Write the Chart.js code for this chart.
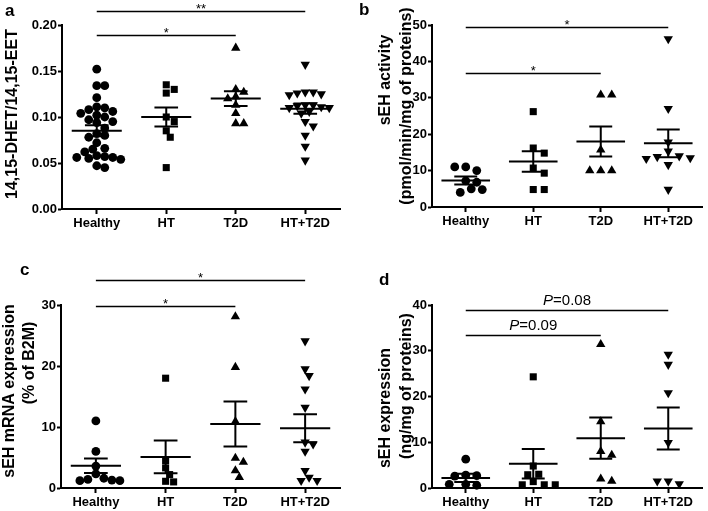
<!DOCTYPE html>
<html>
<head>
<meta charset="utf-8">
<script src="https://cdn.jsdelivr.net/npm/chart.js@4"></script>
<style>
  body { margin: 0; background: #fff; }
  #wrap { position: relative; width: 708px; height: 511px; font-family: "Liberation Sans", Arial, sans-serif; }
  canvas { position: absolute; }
  .lbl { position: absolute; font-weight: bold; font-size: 17px; line-height: 17px; color: #000; }
</style>
</head>
<body>
<div id="wrap">
  <canvas id="ca" width="354" height="255" style="left:0;top:0"></canvas>
  <canvas id="cb" width="354" height="255" style="left:354px;top:0"></canvas>
  <canvas id="cc" width="354" height="256" style="left:0;top:255px"></canvas>
  <canvas id="cd" width="354" height="256" style="left:354px;top:255px"></canvas>
  <div class="lbl" style="left:5px;top:2px">a</div>
  <div class="lbl" style="left:359px;top:1px">b</div>
  <div class="lbl" style="left:20px;top:261px">c</div>
  <div class="lbl" style="left:379px;top:271px">d</div>
</div>
<script>
const groups = ["Healthy", "HT", "T2D", "HT+T2D"];

// a: 14,15-DHET/14,15-EET
const aHealthy = [0.152, 0.134, 0.134, 0.121, 0.111, 0.110, 0.108, 0.106, 0.104, 0.102, 0.100, 0.097, 0.095, 0.094, 0.088,
  0.082, 0.080, 0.078, 0.072, 0.066, 0.065, 0.062, 0.058, 0.057, 0.056, 0.056, 0.055, 0.054, 0.047, 0.045];
const aHT = [0.135, 0.130, 0.126, 0.100, 0.095, 0.085, 0.078, 0.045];
const aT2D = [0.175, 0.130, 0.127, 0.122, 0.120, 0.113, 0.104, 0.093, 0.093];
const aBoth = [0.157, 0.127, 0.127, 0.126, 0.125, 0.124, 0.113, 0.113, 0.112, 0.111, 0.110, 0.110, 0.106, 0.104,
  0.095, 0.090, 0.080, 0.068, 0.053];
const aMean = [0.085, 0.100, 0.120, 0.109];
const aSem = [0.006, 0.0103, 0.008, 0.0056];
const aSigTo = [2, 3];
const aSigLevel = [0.189, 0.215];
const aSigText = ["*", "**"];

// b: sEH activity
const bHealthy = [11.0, 10.0, 11.0, 7.2, 6.8, 5.0, 4.0, 4.8];
const bHT = [26.2, 16.2, 14.8, 10.7, 9.3, 4.8, 4.8];
const bT2D = [30.8, 30.8, 15.7, 10.0, 10.0, 10.0];
const bBoth = [46.2, 27.0, 17.8, 15.3, 14.0, 13.8, 13.5, 13.3, 11.6, 4.8];
const bMean = [7.3, 12.5, 18.0, 17.5];
const bSem = [1.1, 2.8, 4.1, 3.8];
const bSigTo = [2, 3];
const bSigLevel = [36.7, 49.5];
const bSigText = ["*", "*"];

// c: sEH mRNA expression
const cHealthy = [11.0, 6.0, 3.6, 2.3, 1.6, 1.4, 1.3, 1.2, 1.2];
const cHT = [18.0, 4.5, 3.3, 2.2, 1.1, 1.0];
const cT2D = [28.1, 19.8, 10.9, 4.9, 4.25, 2.85, 1.75];
const cBoth = [24.1, 19.5, 18.4, 16.2, 13.2, 7.5, 7.2, 6.0, 2.85, 1.75, 1.2, 1.2];
const cMean = [3.65, 5.1, 10.5, 9.8];
const cSem = [1.2, 2.7, 3.7, 2.3];
const cSigTo = [2, 3];
const cSigLevel = [29.8, 34.1];
const cSigText = ["*", "*"];

// d: sEH expression
const dHealthy = [6.3, 2.8, 2.7, 2.6, 0.8, 0.6, 0.8];
const dHT = [24.3, 4.8, 3.0, 2.9, 1.4, 0.7, 0.7, 0.7];
const dT2D = [31.4, 14.5, 8.0, 7.2, 2.0, 1.5];
const dBoth = [29.2, 27.0, 20.8, 9.9, 1.5, 0.9, 1.5];
const dMean = [2.2, 5.3, 10.9, 13.0];
const dSem = [0.9, 3.2, 4.5, 4.6];
const dSigTo = [2, 3];
const dSigLevel = [33.4, 38.9];
const dSigText = ["P=0.09", "P=0.08"];

const markers = [
  { pointStyle: "circle", pointRadius: 4.4, rotation: 0 },
  { pointStyle: "rect", pointRadius: 5, rotation: 0 },
  { pointStyle: "triangle", pointRadius: 5.4, rotation: 0 },
  { pointStyle: "triangle", pointRadius: 5.4, rotation: 180 },
];

const FONT = '"Liberation Sans", Arial, sans-serif';
Chart.defaults.font.family = FONT;
Chart.defaults.color = "#000";

// spread points sideways so they don't overlap (like a dot plot)
function swarm(values, pxPerY, catW, step, minDist) {
  const placed = [];
  return values.map((v) => {
    const py = v * pxPerY;
    for (let k = 0; ; k++) {
      const off = k === 0 ? 0 : (k % 2 ? 1 : -1) * Math.ceil(k / 2) * step;
      if (placed.every((p) => Math.hypot(p.x - off, p.y - py) >= minDist)) {
        placed.push({ x: off, y: py });
        return off / catW;
      }
    }
  });
}

// mean line + SEM bar with caps, gaps between pieces
function meanSem(mean, sem) {
  const pts = [];
  mean.forEach((m, i) => {
    const s = sem[i];
    pts.push({ x: i - 0.36, y: m }, { x: i + 0.36, y: m }, { x: i, y: null });
    pts.push({ x: i, y: m - s }, { x: i, y: m + s }, { x: i, y: null });
    pts.push({ x: i - 0.17, y: m + s }, { x: i + 0.17, y: m + s }, { x: i, y: null });
    pts.push({ x: i - 0.17, y: m - s }, { x: i + 0.17, y: m - s }, { x: i, y: null });
  });
  return pts;
}

// significance bars above the groups + the y axis title lines
function extrasPlugin(sig, titles) {
  return {
    id: "extras",
    afterDraw(chart) {
      const { ctx, scales } = chart;
      ctx.save();
      ctx.fillStyle = "#000";
      sig.to.forEach((t, i) => {
        const x1 = scales.x.getPixelForValue(0);
        const x2 = scales.x.getPixelForValue(t);
        const py = Math.round(scales.y.getPixelForValue(sig.level[i])) + 0.5;
        ctx.strokeStyle = "#000";
        ctx.lineWidth = 1.6;
        ctx.beginPath();
        ctx.moveTo(x1, py);
        ctx.lineTo(x2, py);
        ctx.stroke();
        const cx = (x1 + x2) / 2;
        const txt = sig.text[i];
        ctx.textBaseline = "alphabetic";
        if (txt.startsWith("P")) {
          const rest = txt.slice(1);
          ctx.font = "italic 15px " + FONT;
          const wP = ctx.measureText("P").width;
          ctx.font = "15px " + FONT;
          const wR = ctx.measureText(rest).width;
          const x0 = cx - (wP + wR) / 2;
          ctx.textAlign = "left";
          ctx.font = "italic 15px " + FONT;
          ctx.fillText("P", x0, py - 6);
          ctx.font = "15px " + FONT;
          ctx.fillText(rest, x0 + wP, py - 6);
        } else {
          ctx.font = "13px " + FONT;
          ctx.textAlign = "center";
          ctx.fillText(txt, cx, py + 1);
        }
      });
      ctx.font = "bold 16px " + FONT;
      ctx.textAlign = "center";
      ctx.textBaseline = "middle";
      titles.forEach((t) => {
        ctx.save();
        ctx.translate(t.x, t.y);
        ctx.rotate(-Math.PI / 2);
        ctx.fillText(t.text, 0, 0);
        ctx.restore();
      });
      ctx.restore();
    },
  };
}

function makePanel(id, sets, mean, sem, sig, opt) {
  const canvas = document.getElementById(id);
  const W = canvas.width, H = canvas.height;
  const area = opt.area;
  const pxPerY = (area.bottom - area.top) / opt.yMax;
  const catW = (area.right - area.left) / 4;
  const xH = 23;

  const datasets = sets.map((vals, g) => {
    const offs = swarm(vals, pxPerY, catW, opt.step, opt.minDist);
    return {
      type: "scatter",
      label: groups[g],
      data: vals.map((v, k) => ({ x: g + offs[k], y: v })),
      backgroundColor: "#000",
      borderColor: "#000",
      borderWidth: 0,
      ...markers[g],
      clip: false,
    };
  });
  datasets.push({
    type: "line",
    label: "mean",
    data: meanSem(mean, sem),
    borderColor: "#000",
    borderWidth: 2,
    pointRadius: 0,
    fill: false,
    spanGaps: false,
    tension: 0,
    clip: false,
  });

  new Chart(canvas, {
    type: "scatter",
    data: { datasets: datasets },
    options: {
      responsive: false,
      animation: false,
      devicePixelRatio: 1,
      layout: {
        padding: { left: 0, top: area.top, right: W - area.right, bottom: H - area.bottom - xH },
      },
      plugins: { legend: { display: false }, tooltip: { enabled: false } },
      scales: {
        x: {
          type: "linear",
          min: -0.5,
          max: 3.5,
          afterBuildTicks: (s) => { s.ticks = groups.map((g, i) => ({ value: i })); },
          afterFit: (s) => { s.height = xH; },
          ticks: {
            callback: (v) => groups[v],
            font: { size: 13, weight: "bold" },
            padding: 2,
            maxRotation: 0,
            autoSkip: false,
          },
          grid: { drawOnChartArea: false, drawTicks: true, tickLength: 5, tickColor: "#000", tickWidth: 2 },
          border: { display: true, color: "#000", width: 2 },
        },
        y: {
          min: 0,
          max: opt.yMax,
          afterFit: (s) => { s.width = area.left; },
          ticks: {
            stepSize: opt.yStep,
            callback: (v) => v.toFixed(opt.dec),
            font: { size: 13, weight: "bold" },
            padding: 1,
          },
          grid: { drawOnChartArea: false, drawTicks: true, tickLength: 4, tickColor: "#000", tickWidth: 2 },
          border: { display: true, color: "#000", width: 2 },
        },
      },
    },
    plugins: [extrasPlugin(sig, opt.titles)],
  });
}

makePanel("ca", [aHealthy, aHT, aT2D, aBoth], aMean, aSem,
  { to: aSigTo, level: aSigLevel, text: aSigText },
  { area: { left: 62, top: 25, right: 340, bottom: 209 }, yMax: 0.2, yStep: 0.05, dec: 2, step: 4, minDist: 7,
    titles: [{ text: "14,15-DHET/14,15-EET", x: 13, y: 114 }] });

makePanel("cb", [bHealthy, bHT, bT2D, bBoth], bMean, bSem,
  { to: bSigTo, level: bSigLevel, text: bSigText },
  { area: { left: 78, top: 25, right: 348, bottom: 207 }, yMax: 50, yStep: 10, dec: 0, step: 5.5, minDist: 8.3,
    titles: [{ text: "sEH activity", x: 32, y: 80 }, { text: "(pmol/min/mg of proteins)", x: 53, y: 106 }] });

makePanel("cc", [cHealthy, cHT, cT2D, cBoth], cMean, cSem,
  { to: cSigTo, level: cSigLevel, text: cSigText },
  { area: { left: 61, top: 50, right: 340, bottom: 233 }, yMax: 30, yStep: 10, dec: 0, step: 4, minDist: 6.8,
    titles: [{ text: "sEH mRNA expression", x: 10, y: 136 }, { text: "(% of B2M)", x: 30, y: 108 }] });

makePanel("cd", [dHealthy, dHT, dT2D, dBoth], dMean, dSem,
  { to: dSigTo, level: dSigLevel, text: dSigText },
  { area: { left: 78, top: 50, right: 348, bottom: 233 }, yMax: 40, yStep: 10, dec: 0, step: 5.5, minDist: 8.3,
    titles: [{ text: "sEH expression", x: 32, y: 153 }, { text: "(ng/mg of proteins)", x: 53, y: 131 }] });
</script>
</body>
</html>
